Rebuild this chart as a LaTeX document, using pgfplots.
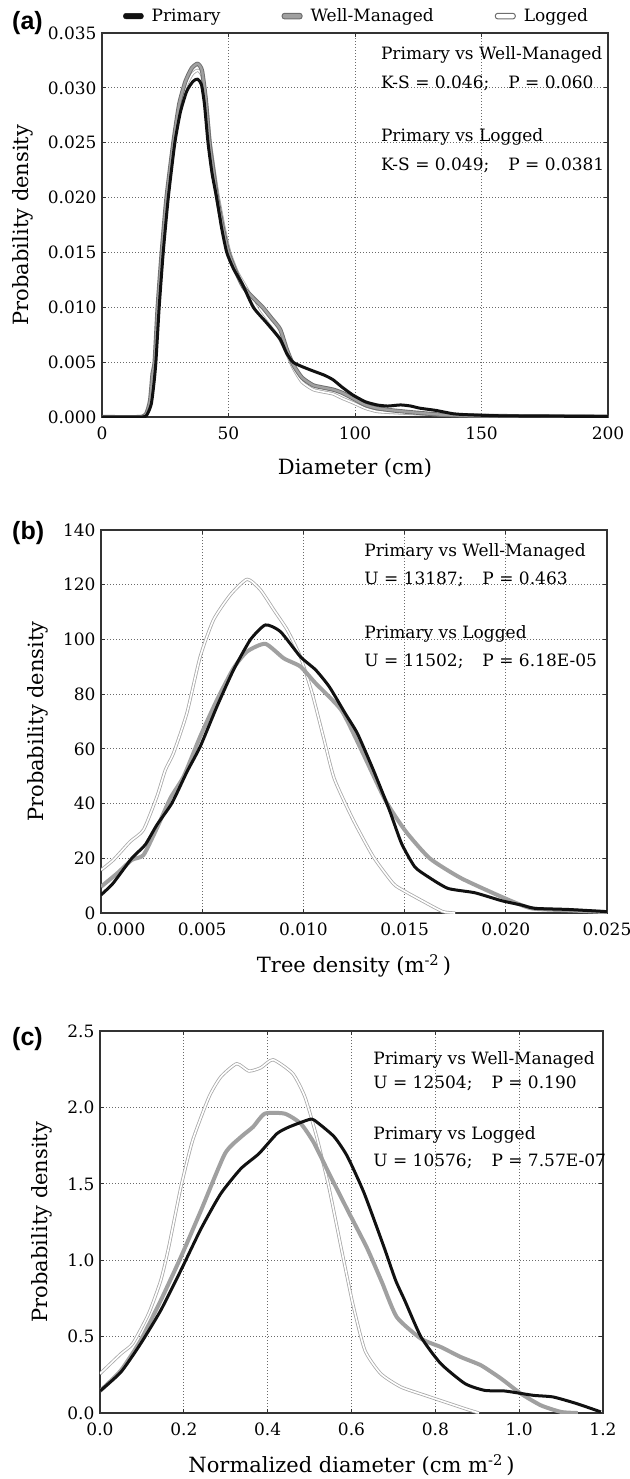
\documentclass[border=0pt]{standalone}
\usepackage{fontspec}
\setmainfont{DejaVu Serif}
\newfontfamily\panelfont{Liberation Sans}
\usepackage{pgfplots}
\pgfplotsset{compat=1.18}

\definecolor{prim}{HTML}{111111}
\definecolor{wm}{HTML}{A0A0A0}
\definecolor{wmedge}{HTML}{6E6E6E}
\definecolor{logedge}{HTML}{A8A8A8}
\definecolor{gridc}{HTML}{6A6A6A}
\definecolor{axc}{HTML}{333333}

\tikzset{
  note/.style={anchor=west, font=\fontsize{17}{20}\selectfont, inner sep=0pt},
  primline/.style={color=prim, line width=3pt, line join=round, smooth, tension=0.35},
  wmline/.style={color=wm, line width=4pt, line join=round, smooth, tension=0.35},
  wmlineA/.style={draw=wmedge, double=wm, double distance=2.4pt, line width=0.9pt, line join=round, smooth, tension=0.35},
  logline/.style={draw=logedge, double=white, double distance=1.6pt, line width=0.8pt, line join=round, smooth, tension=0.35},
}
\pgfplotsset{
  panel/.style={
    scale only axis, anchor=south west, clip mode=individual,
    scaled x ticks=false, scaled y ticks=false,
    axis line style={line width=1.6pt, color=axc},
    grid=major,
    grid style={color=gridc, line width=1pt, dash pattern=on 1pt off 2pt},
    tick align=inside, major tick length=4pt,
    tick style={color=axc, line width=1pt},
    tick label style={font=\fontsize{17}{20}\selectfont},
    label style={font=\fontsize{21}{25}\selectfont},
    xticklabel style={yshift=-6pt},
    yticklabel style={xshift=-2pt},
    xlabel style={yshift=-12pt},
    ylabel style={yshift=8pt},
  },
}

\begin{document}
\begin{tikzpicture}
\useasboundingbox (0pt,0pt) rectangle (629pt,-1479pt);

% ---------------- (a) diameter
\begin{axis}[panel,
  at={(102pt,-417pt)}, width=506pt, height=384pt,
  xmin=0, xmax=200, ymin=0, ymax=0.035,
  xtick={0,50,100,150,200}, xticklabels={0,50,100,150,200},
  ytick={0,0.005,0.01,0.015,0.02,0.025,0.03,0.035},
  yticklabels={0.000,0.005,0.010,0.015,0.020,0.025,0.030,0.035},
  xlabel={Diameter (cm)}, ylabel={Probability density},
  legend image code/.code={\draw[#1] (0pt,-2.8pt) rectangle (20pt,2.8pt);},
  legend columns=3,
  legend style={draw=none, fill=none, at={(axis description cs:0.0415,1.044)}, anchor=west,
    inner sep=0pt, nodes={inner sep=0pt}, font=\fontsize{17}{20}\selectfont,
    /tikz/every odd column/.append style={column sep=8pt},
    /tikz/every even column/.append style={column sep=61pt}},
]
\addplot[logline, forget plot] coordinates {
(0,0) (15,0) (17.5,0.0003) (19.2,0.0015) (20.2,0.004) (21,0.005) (22.3,0.010) (23.9,0.015)
(25.8,0.020) (28.5,0.025) (30.8,0.0282) (33.3,0.0302) (35.8,0.0313) (38,0.0316) (39.7,0.0310)
(41.3,0.0285) (42.8,0.025) (44.5,0.0222) (46,0.020) (48.3,0.0172) (50.5,0.015) (53.5,0.0132)
(57,0.0118) (61,0.0100) (65,0.0087) (70,0.0072) (73,0.0058) (75.5,0.0045) (79,0.0032)
(83.4,0.0025) (87,0.0023) (91.3,0.0021) (95,0.0017) (99.2,0.0013) (104,0.0008) (108.7,0.0005)
(115,0.0004) (124,0.0003) (135,0.0002) (145,0.0002) (160,0.0001) (200,0.00002)};
\addplot[wmlineA, forget plot] coordinates {
(0,0) (15,0) (17.5,0.0003) (19,0.0015) (20,0.004) (20.8,0.005) (22,0.010) (23.6,0.015)
(25.5,0.020) (28.2,0.025) (30.5,0.0285) (33,0.0306) (35.5,0.0318) (37.8,0.0322) (39.5,0.0316)
(41,0.0290) (42.5,0.025) (44,0.0225) (45.5,0.020) (47.8,0.0172) (50,0.015) (53,0.0132)
(56,0.0118) (60,0.0108) (63.5,0.0100) (67,0.0090) (70.4,0.0080) (73,0.0062) (75.5,0.0048)
(79,0.0036) (83.4,0.0029) (87,0.0027) (91.3,0.0025) (95,0.0022) (99.2,0.0017) (104,0.0011)
(108.7,0.0008) (115,0.0006) (124,0.0004) (135,0.0002) (150,0.0001) (200,0.00003)};
\addplot[primline, forget plot] coordinates {
(0,0) (16,0) (18,0.0003) (19.5,0.0012) (20.5,0.003) (21.3,0.005) (22.6,0.010) (24.2,0.015)
(26.2,0.020) (28.8,0.025) (31,0.0278) (33.5,0.0297) (36,0.0306) (37.8,0.0308) (39.3,0.0303)
(40.5,0.0285) (41.9,0.025) (43.5,0.0222) (45.3,0.020) (47.3,0.0172) (49.3,0.015) (52,0.0135)
(55.5,0.0121) (59.8,0.010) (65,0.0086) (70.4,0.0071) (73,0.0058) (75.5,0.005) (79,0.0046)
(83.4,0.0042) (88,0.0038) (91.3,0.0034) (95,0.0027) (99.2,0.0020) (104,0.0014) (108.7,0.0011)
(113,0.0010) (118,0.0011) (122,0.0010) (125.7,0.0008) (132,0.0006) (138.7,0.0003) (145,0.0002)
(160,0.0001) (200,0.00005)};
\addlegendimage{draw=prim, fill=prim, rounded corners=2.5pt}
\addlegendentry{Primary}
\addlegendimage{draw=wmedge, fill=wm, line width=1pt, rounded corners=2.5pt}
\addlegendentry{Well-Managed}
\addlegendimage{draw=wmedge, fill=white, line width=1pt, rounded corners=2.5pt}
\addlegendentry{Logged}
\node[note] at (rel axis cs:0.551,0.943) {Primary vs Well-Managed};
\node[note] at (rel axis cs:0.551,0.870) {K-S = 0.046;\hspace{19pt}P = 0.060};
\node[note] at (rel axis cs:0.551,0.729) {Primary vs Logged};
\node[note] at (rel axis cs:0.551,0.656) {K-S = 0.049;\hspace{19pt}P = 0.0381};
\end{axis}

% ---------------- (b) tree density
\begin{axis}[panel,
  at={(101pt,-913pt)}, width=506pt, height=383pt,
  xmin=0, xmax=0.025, ymin=0, ymax=140,
  xtick={0,0.005,0.01,0.015,0.02,0.025},
  xticklabels={\hspace*{40pt}0.000,0.005,0.010,0.015,0.020,0.025},
  ytick={0,20,40,60,80,100,120,140},
  yticklabels={0,20,40,60,80,100,120,140},
  xlabel={Tree density (m\textsuperscript{-2}\,)}, ylabel={Probability density},
]
\addplot[logline] coordinates {
(0,15.7) (0.00061,19.4) (0.00144,26.1) (0.0021,30.4) (0.00276,42.5) (0.00318,52.3)
(0.00358,58.4) (0.00424,73) (0.0049,93.7) (0.00556,107.2) (0.00639,116.3) (0.00722,122)
(0.00788,118.1) (0.00854,110.8) (0.0092,103.5) (0.00985,93.7) (0.01043,80.4) (0.0110,64)
(0.01153,49) (0.01247,33.9) (0.01346,20.5) (0.01445,10.7) (0.015,8.0) (0.01598,4.0)
(0.01689,0.5) (0.0175,0)};
\addplot[wmline] coordinates {
(0,9.6) (0.0008,14.5) (0.00152,19.4) (0.0021,21.2) (0.00276,31) (0.00343,42) (0.00409,50)
(0.0049,64.5) (0.00573,77.9) (0.00655,89.5) (0.00722,95.6) (0.00812,98.4) (0.00903,93.1)
(0.00985,90.1) (0.0106,84.0) (0.01188,74.1) (0.01287,59.5) (0.01405,41.2) (0.01504,30)
(0.01624,20) (0.0178,12.7) (0.01995,5.4) (0.02127,1.7) (0.0231,1.0) (0.025,0.3)};
\addplot[primline] coordinates {
(0,6.6) (0.0006,10.9) (0.00152,20.0) (0.00218,24.9) (0.00276,32.2) (0.0035,40.1)
(0.00424,51.5) (0.0049,60.8) (0.00573,75.5) (0.00655,88.9) (0.00738,99.9) (0.00812,105.3)
(0.00886,102.9) (0.00985,93.7) (0.0106,88.9) (0.01128,82.7) (0.01207,72.9) (0.01267,65.6)
(0.01346,52.2) (0.01425,37.6) (0.01485,25.4) (0.0155,16.9) (0.01615,13.3) (0.01714,9.0)
(0.01847,7.4) (0.01979,4.5) (0.02078,2.9) (0.02144,1.7) (0.02307,1.3) (0.025,0.5)};
\node[note] at (rel axis cs:0.520,0.943) {Primary vs Well-Managed};
\node[note] at (rel axis cs:0.520,0.872) {U = 13187;\hspace{19pt}P = 0.463};
\node[note] at (rel axis cs:0.520,0.728) {Primary vs Logged};
\node[note] at (rel axis cs:0.520,0.656) {U = 11502;\hspace{19pt}P = 6.18E-05};
\end{axis}

% ---------------- (c) normalized diameter
\begin{axis}[panel,
  at={(100pt,-1413pt)}, width=503pt, height=382pt,
  xmin=0, xmax=1.2, ymin=0, ymax=2.5,
  xtick={0,0.2,0.4,0.6,0.8,1.0,1.2},
  xticklabels={0.0,0.2,0.4,0.6,0.8,1.0,1.2},
  ytick={0,0.5,1.0,1.5,2.0,2.5},
  yticklabels={0.0,0.5,1.0,1.5,2.0,2.5},
  xlabel={Normalized diameter (cm m\textsuperscript{-2}\,)}, ylabel={Probability density},
]
\addplot[logline] coordinates {
(0,0.257) (0.05,0.388) (0.078,0.454) (0.116,0.650) (0.145,0.868) (0.164,1.086) (0.193,1.479)
(0.221,1.784) (0.260,2.068) (0.288,2.199) (0.326,2.286) (0.355,2.238) (0.384,2.260)
(0.413,2.312) (0.460,2.221) (0.489,2.068) (0.517,1.806) (0.546,1.479) (0.575,1.086)
(0.603,0.716) (0.632,0.410) (0.670,0.257) (0.718,0.170) (0.775,0.116) (0.823,0.072)
(0.871,0.028) (0.904,0)};
\addplot[wmline] coordinates {
(0,0.144) (0.05,0.279) (0.097,0.476) (0.145,0.737) (0.193,1.021) (0.241,1.326) (0.298,1.697)
(0.336,1.806) (0.365,1.872) (0.393,1.959) (0.441,1.959) (0.479,1.894) (0.51,1.77)
(0.546,1.57) (0.594,1.31) (0.637,1.08) (0.672,0.86) (0.708,0.628) (0.766,0.486) (0.813,0.432)
(0.861,0.366) (0.909,0.312) (0.957,0.225) (1.004,0.127) (1.052,0.050) (1.1,0.007) (1.14,0)};
\addplot[primline] coordinates {
(0,0.144) (0.05,0.268) (0.097,0.454) (0.145,0.672) (0.193,0.934) (0.241,1.206) (0.288,1.435)
(0.336,1.599) (0.379,1.697) (0.422,1.828) (0.451,1.872) (0.498,1.920) (0.511,1.917)
(0.558,1.81) (0.59,1.68) (0.63,1.44) (0.677,1.09) (0.705,0.87) (0.727,0.737) (0.766,0.497)
(0.813,0.323) (0.871,0.192) (0.918,0.148) (0.966,0.144) (1.033,0.116) (1.081,0.105)
(1.138,0.061) (1.195,0.007)};
\node[note] at (rel axis cs:0.543,0.924) {Primary vs Well-Managed};
\node[note] at (rel axis cs:0.543,0.863) {U = 12504;\hspace{19pt}P = 0.190};
\node[note] at (rel axis cs:0.543,0.728) {Primary vs Logged};
\node[note] at (rel axis cs:0.543,0.660) {U = 10576;\hspace{19pt}P = 7.57E-07};
\end{axis}

\node[anchor=west, inner sep=0pt, font=\panelfont\bfseries\fontsize{25}{28}\selectfont] at (12pt,-23pt) {(a)};
\node[anchor=west, inner sep=0pt, font=\panelfont\bfseries\fontsize{25}{28}\selectfont] at (12pt,-533pt) {(b)};
\node[anchor=west, inner sep=0pt, font=\panelfont\bfseries\fontsize{25}{28}\selectfont] at (12pt,-1039pt) {(c)};
\end{tikzpicture}
\end{document}
